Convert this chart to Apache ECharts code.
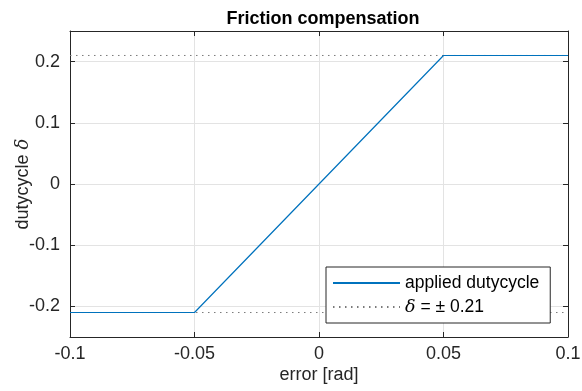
<!DOCTYPE html>
<html>
<head>
<meta charset="utf-8">
<script src="https://cdn.jsdelivr.net/npm/echarts@6/dist/echarts.min.js"></script>
<style>html,body{margin:0;padding:0;background:#fff}#c{width:582px;height:391px}</style>
</head>
<body>
<div id="c"></div>
<script>
// Data
const errorX = [-0.1, -0.05, 0.05, 0.1];
const dutyY = [-0.21, -0.21, 0.21, 0.21];
const limitX = [-0.1, 0.1];
const limitHi = 0.21;
const limitLo = -0.21;
const xTicks = [-0.1, -0.05, 0, 0.05, 0.1];
const yTicks = [-0.2, -0.1, 0, 0.1, 0.2];

const FONT = '"Liberation Sans", Arial, Helvetica, sans-serif';
const AX = '#262626';
const GRID = '#e3e3e3';

const dutyData = errorX.map((x, i) => [x, dutyY[i]]);
const limitData = [[limitX[0], limitHi], [limitX[1], limitHi], '-', [limitX[0], limitLo], [limitX[1], limitLo]];

const fmt = v => {
  const r = Math.round(v * 1000) / 1000;
  return r === 0 ? '0' : String(r);
};

const chart = echarts.init(document.getElementById('c'), null, {renderer: 'canvas'});
chart.setOption({
  animation: false,
  backgroundColor: '#fff',
  title: {
    text: 'Friction compensation',
    left: 318, top: 5, textAlign: 'center',
    textStyle: {fontFamily: FONT, fontSize: 18, fontWeight: 'bold', color: '#000'}
  },
  grid: {left: 70, right: 14, top: 31, bottom: 54, containLabel: false, outerBoundsMode: 'none'},
  legend: {
    orient: 'vertical',
    left: 326, top: 267,
    padding: [6, 11, 6, 6],
    itemWidth: 67, itemHeight: 14, itemGap: 4,
    backgroundColor: '#fff',
    borderColor: AX, borderWidth: 1, borderRadius: 0,
    itemStyle: {color: 'transparent', borderWidth: 0, opacity: 0},
    textStyle: {
      fontFamily: FONT, fontSize: 17.5, color: '#000', lineHeight: 20,
      rich: {
        i: {fontFamily: '"DejaVu Serif", "Liberation Serif", serif', fontStyle: 'italic', fontSize: 17.5, color: '#000'},
        n: {fontFamily: FONT, fontSize: 17.5, color: '#000'}
      }
    },
    formatter: name => name === 'limit' ? '{i|δ}{n| = ± 0.21}' : name,
    data: ['applied dutycycle', 'limit']
  },
  xAxis: [{
    type: 'value', min: -0.1, max: 0.1, interval: 0.05,
    name: 'error [rad]', nameLocation: 'middle', nameGap: 29, nameMoveOverlap: false,
    nameTextStyle: {fontFamily: FONT, fontSize: 18, color: AX},
    axisLine: {show: true, onZero: false, lineStyle: {color: AX, width: 1}},
    axisTick: {show: true, inside: true, length: 5, lineStyle: {color: AX}},
    axisLabel: {fontFamily: FONT, fontSize: 18, color: AX, margin: 8, formatter: fmt,
                showMinLabel: true, showMaxLabel: true, hideOverlap: false},
    splitLine: {show: true, lineStyle: {color: GRID, width: 1}}
  }, {
    type: 'value', position: 'top', min: -0.1, max: 0.1, interval: 0.05,
    axisLine: {show: true, onZero: false, lineStyle: {color: AX, width: 1}},
    axisTick: {show: true, inside: true, length: 5, lineStyle: {color: AX}},
    axisLabel: {show: false},
    splitLine: {show: false}
  }],
  yAxis: [{
    type: 'value', min: -0.25, max: 0.25, splitNumber: 5,
    name: '{n|dutycycle }{i|δ}', nameLocation: 'middle', nameGap: 38, nameMoveOverlap: false,
    nameTextStyle: {
      fontFamily: FONT, fontSize: 18, color: AX,
      rich: {
        n: {fontFamily: FONT, fontSize: 18, color: AX},
        i: {fontFamily: '"DejaVu Serif", "Liberation Serif", serif', fontStyle: 'italic', fontSize: 18, color: AX}
      }
    },
    axisLine: {show: true, onZero: false, lineStyle: {color: AX, width: 1}},
    axisTick: {show: true, inside: true, length: 5, lineStyle: {color: AX}},
    axisLabel: {fontFamily: FONT, fontSize: 18, color: AX, margin: 10,
                showMinLabel: false, showMaxLabel: false,
                formatter: v => (Math.abs(Math.abs(v) - 0.25) < 1e-9 ? '' : fmt(v))},
    splitLine: {show: true, lineStyle: {color: GRID, width: 1}}
  }, {
    type: 'value', position: 'right', min: -0.25, max: 0.25, splitNumber: 5,
    axisLine: {show: true, onZero: false, lineStyle: {color: AX, width: 1}},
    axisTick: {show: true, inside: true, length: 5, lineStyle: {color: AX}},
    axisLabel: {show: false},
    splitLine: {show: false}
  }],
  series: [{
    name: 'limit', type: 'line', xAxisIndex: 0, yAxisIndex: 0,
    data: limitData, showSymbol: false, symbol: 'none', connectNulls: false,
    lineStyle: {color: '#7a7a7a', width: 1, type: [1.5, 4.5]},
    itemStyle: {color: '#7a7a7a'}, z: 2
  }, {
    name: 'applied dutycycle', type: 'line', xAxisIndex: 0, yAxisIndex: 0,
    data: dutyData, showSymbol: false, symbol: 'none',
    lineStyle: {color: '#0072BD', width: 1.2},
    itemStyle: {color: '#0072BD'}, z: 3
  }]
});
</script>
</body>
</html>
